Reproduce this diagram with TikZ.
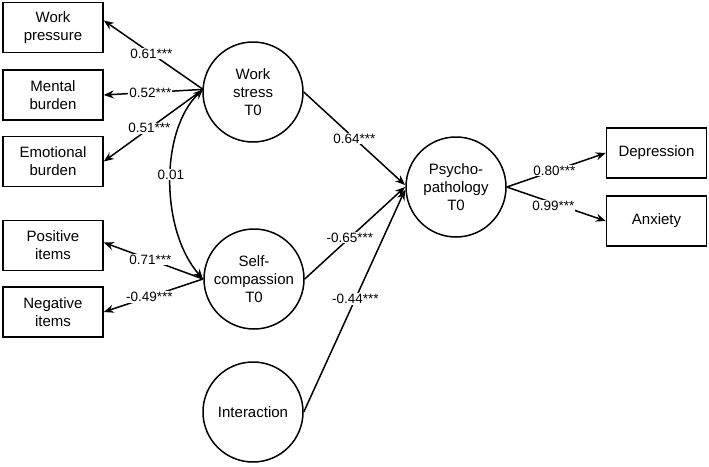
\documentclass[tikz,border=0pt]{standalone}
\usepackage{fontspec}
\setmainfont{Liberation Sans}
\usetikzlibrary{arrows.meta,calc}
\begin{document}
\begin{tikzpicture}[x=1pt,y=-1pt,
  every node/.style={font=\fontsize{15}{18}\selectfont},
  obs/.style={draw,line width=1.5pt,minimum width=100pt,minimum height=50pt,align=center,inner sep=0pt},
  lat/.style={draw,circle,line width=1.5pt,minimum size=100pt,align=center,inner sep=0pt},
  conn/.style={line width=1.5pt,-{Stealth[length=10pt,width=8pt]}},
  lbl/.style={fill=white,inner sep=1pt,font=\fontsize{13.5}{15}\selectfont}]
\useasboundingbox (0,0) rectangle (709,466);
\node[obs] (wp) at (53,27.5) {Work\\pressure};
\node[obs] (mb) at (53,95) {Mental\\burden};
\node[obs] (eb) at (53,161.5) {Emotional\\burden};
\node[obs] (pi) at (53,245.5) {Positive\\items};
\node[obs] (ni) at (53,312) {Negative\\items};
\node[obs] (dep) at (656.5,153) {Depression};
\node[obs] (anx) at (656.5,221) {Anxiety};
\node[lat] (ws) at (253,92) {Work\\stress\\T0};
\node[lat] (sc) at (254,279) {Self-\\compassion\\T0};
\node[lat] (int) at (253,412) {Interaction};
\node[lat] (pp) at (456,187) {Psycho-\\pathology\\T0};
\coordinate (wsl) at ($(ws.center)+(183:50)$);
\coordinate (scl) at ($(sc.center)+(180:51)$);
\coordinate (ppl) at ($(pp.center)+(180:51)$);
\draw[conn] (wsl) -- node[lbl,pos=.52] {0.61***} ([yshift=7pt]wp.east);
\draw[conn] (wsl) -- node[lbl,pos=.53] {0.52***} (mb.east);
\draw[conn] (wsl) -- node[lbl,pos=.54] {0.51***} (eb.east);
\draw[conn] (scl) -- node[lbl,pos=.53] {0.71***} ([yshift=3pt]pi.east);
\draw[conn] (scl) -- node[lbl,pos=.54] {-0.49***} (ni.east);
\draw[line width=1.5pt,{Stealth[length=10pt,width=8pt]}-{Stealth[length=10pt,width=8pt]}]
  (wsl) .. controls (160,130) and (160,230) .. node[lbl,pos=.47] {0.01} (scl);
\draw[conn] (ws.east) -- node[lbl,pos=.5] {0.64***} ([yshift=2pt]ppl);
\draw[conn] (sc.east) -- node[lbl,pos=.45] {-0.65***} (ppl);
\draw[conn] (int.east) -- node[lbl,pos=.51] {-0.44***} ([yshift=-3pt]ppl);
\draw[conn] (pp.east) -- node[lbl,pos=.48] {0.80***} (dep.west);
\draw[conn] (pp.east) -- node[lbl,pos=.47,yshift=-3pt] {0.99***} (anx.west);
\end{tikzpicture}
\end{document}
